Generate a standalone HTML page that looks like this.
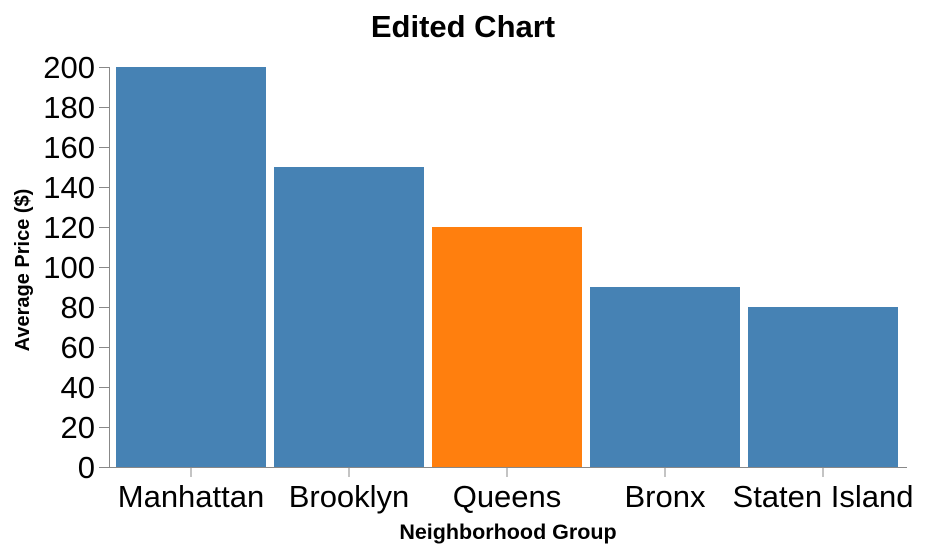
<!DOCTYPE html>
<html><head><meta charset="utf-8"><style>
body{margin:0;background:#fff;font-family:"Liberation Sans",Arial,sans-serif}
</style></head><body>
<svg id="chart" width="926" height="552" xmlns="http://www.w3.org/2000/svg">
<text x="463" y="37" text-anchor="middle" font-size="31" font-weight="bold" fill="#000">Edited Chart</text>
<g id="bars"></g>
<g id="axes"></g>
<text transform="translate(29,270) rotate(-90)" text-anchor="middle" font-size="20" font-weight="bold">Average Price ($)</text>
<text x="508" y="539" text-anchor="middle" font-size="21.5" font-weight="bold">Neighborhood Group</text>
</svg>
<script>
const categories=["Manhattan","Brooklyn","Queens","Bronx","Staten Island"];
const prices=[200,150,120,90,80];
const highlighted=["Queens"];
const yTicks=[0,20,40,60,80,100,120,140,160,180,200];
const NS="http://www.w3.org/2000/svg";
const X0=112,STEP=158,BW=150,Y0=467,YS=2;
const x=i=>X0+i*STEP+(STEP-BW)/2;
const y=v=>Y0-v*YS;
function mk(t,a,p){const e=document.createElementNS(NS,t);for(const k in a)e.setAttribute(k,a[k]);p.appendChild(e);return e;}
const bars=document.getElementById('bars'),axes=document.getElementById('axes');
categories.forEach((c,i)=>{
 const r=mk('rect',{x:x(i),y:y(prices[i]),width:BW,height:Y0-y(prices[i]),fill:highlighted.includes(c)?'#ff7f0e':'#4682b4'},bars);
 
 
 const cx=x(i)+BW/2;
 const tk=mk('line',{x1:cx,x2:cx,y1:Y0+0.5,y2:Y0+10,stroke:'#888'},axes);
 
 
 const t=mk('text',{x:cx,y:Y0+40,'text-anchor':'middle','font-size':31},axes);
 t.textContent=c;
 
 
});
yTicks.forEach(v=>{
 const yy=y(v)+0.5;
 const tk=mk('line',{x1:99,x2:109.5,y1:yy,y2:yy,stroke:'#888'},axes);
 
 
 const t=mk('text',{x:95,y:y(v)+11,'text-anchor':'end','font-size':31},axes);
 t.textContent=v;
 
 
});
const ya=mk('line',{x1:109.5,x2:109.5,y1:y(200),y2:Y0+0.5,stroke:'#888'},axes);


const xa=mk('line',{x1:109.5,x2:907,y1:Y0+0.5,y2:Y0+0.5,stroke:'#888'},axes);


</script>
</body></html>
